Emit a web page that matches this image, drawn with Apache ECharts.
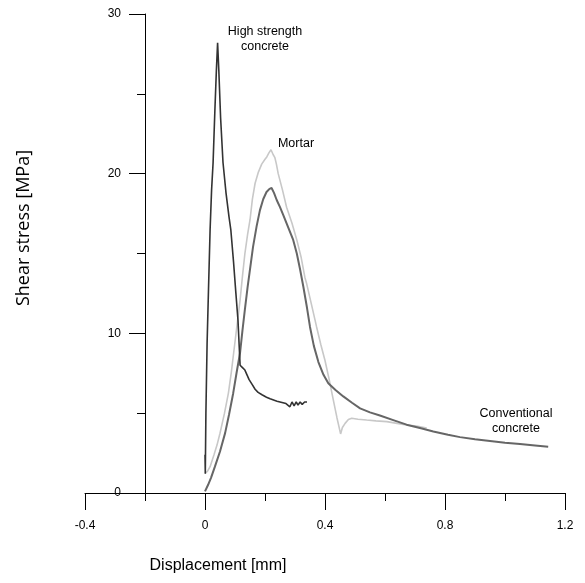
<!DOCTYPE html>
<html>
<head>
<meta charset="utf-8">
<script src="https://cdn.jsdelivr.net/npm/echarts@6/dist/echarts.min.js"></script>
<style>html,body{margin:0;padding:0;background:#fff;}#c{width:585px;height:583px;}</style>
</head>
<body>
<div id="c"></div>
<script>
// Data: [displacement mm, shear stress MPa]
var highStrength = [
  [0,2.4],[0.001,1.2],[0.003,5.0],[0.007,9.4],[0.012,13.0],[0.017,16.5],[0.022,19.0],[0.027,20.7],
  [0.033,24.0],[0.038,26.5],[0.042,28.2],[0.046,26.5],[0.052,23.5],[0.06,20.7],[0.07,18.8],
  [0.08,17.3],[0.086,16.5],[0.095,14.5],[0.103,12.5],[0.11,10.8],[0.114,9.2],[0.117,8.0],
  [0.125,7.85],[0.133,7.7],[0.14,7.4],[0.147,7.1],[0.157,6.8],[0.167,6.5],[0.177,6.3],
  [0.19,6.15],[0.205,6.0],[0.217,5.9],[0.24,5.75],[0.26,5.65],[0.27,5.6],
  [0.276,5.7],[0.283,5.4],[0.29,5.7],[0.297,5.45],[0.304,5.7],[0.31,5.5],[0.317,5.7],[0.324,5.55],[0.332,5.7],[0.34,5.7]
];
var conventional = [
  [0,0.1],[0.01,0.5],[0.02,0.95],[0.033,1.65],[0.05,2.6],[0.067,3.75],[0.08,4.9],[0.094,6.25],
  [0.105,7.5],[0.117,8.8],[0.125,10.2],[0.133,11.5],[0.142,12.9],[0.15,14.0],[0.16,15.4],
  [0.172,16.7],[0.183,17.7],[0.194,18.4],[0.205,18.85],[0.215,19.05],[0.222,19.1],[0.23,18.8],
  [0.239,18.35],[0.25,17.9],[0.261,17.4],[0.278,16.6],[0.294,15.85],[0.306,15.0],[0.317,14.0],
  [0.328,12.9],[0.34,11.6],[0.35,10.4],[0.363,9.2],[0.378,8.2],[0.395,7.4],[0.411,6.87],
  [0.435,6.45],[0.461,6.05],[0.49,5.65],[0.517,5.3],[0.55,5.05],[0.583,4.85],[0.63,4.55],
  [0.672,4.28],[0.72,4.05],[0.761,3.85],[0.81,3.65],[0.85,3.5],[0.9,3.37],[0.95,3.26],
  [1.0,3.15],[1.05,3.07],[1.1,2.98],[1.144,2.9]
];
var mortar = [
  [0,1.23],[0.008,1.35],[0.017,1.65],[0.03,2.4],[0.04,3.0],[0.05,3.74],[0.065,5.0],[0.078,6.26],
  [0.088,7.6],[0.098,9.16],[0.108,10.7],[0.117,12.1],[0.125,13.6],[0.133,15.0],[0.142,16.2],
  [0.15,17.1],[0.158,18.4],[0.167,19.4],[0.178,20.1],[0.189,20.6],[0.2,20.9],[0.206,21.05],
  [0.213,21.3],[0.22,21.5],[0.227,21.2],[0.233,21.0],[0.238,20.6],[0.244,20.0],[0.258,19.0],
  [0.272,17.9],[0.29,16.9],[0.306,15.85],[0.32,14.8],[0.333,13.5],[0.339,13.1],[0.355,11.8],
  [0.372,10.4],[0.386,9.3],[0.4,8.3],[0.414,7.1],[0.428,5.8],[0.44,4.7],[0.452,3.7],[0.458,4.1],
  [0.467,4.36],[0.478,4.6],[0.489,4.68],[0.51,4.62],[0.539,4.57],[0.57,4.52],[0.606,4.47],
  [0.64,4.36],[0.672,4.26],[0.705,4.2],[0.739,4.07]
];
var seriesNames = ['High strength concrete','Conventional concrete','Mortar'];
var xTitle = 'Displacement [mm]';
var yTitle = 'Shear stress [MPa]';

var chart = echarts.init(document.getElementById('c'), null, {renderer:'canvas'});
var lblFont = 'Liberation Sans, Arial, sans-serif';
var gridBox = {left:85,right:20,top:14,bottom:90};
chart.setOption({
  animation:false,
  backgroundColor:'#fff',
  grid:[gridBox, Object.assign({}, gridBox)],
  xAxis:[{
    type:'value',min:-0.4,max:1.2,interval:0.4,gridIndex:0,
    axisLine:{show:true,onZero:false,lineStyle:{color:'#000',width:1}},
    axisTick:{show:true,length:17,lineStyle:{color:'#000'}},
    splitLine:{show:false},
    axisLabel:{margin:27,fontSize:12,color:'#000',fontFamily:lblFont}
  },{
    type:'value',min:-0.4,max:1.2,interval:0.2,gridIndex:1,
    axisLine:{show:false,onZero:false},
    axisTick:{show:true,length:8,lineStyle:{color:'#000'}},
    splitLine:{show:false},axisLabel:{show:false}
  }],
  yAxis:[{
    type:'value',min:0,max:30,interval:10,offset:-60,gridIndex:0,
    axisLine:{show:true,onZero:false,lineStyle:{color:'#000',width:1}},
    axisTick:{show:true,length:16,lineStyle:{color:'#000'}},
    splitLine:{show:false},
    axisLabel:{margin:24,fontSize:12,color:'#000',fontFamily:lblFont}
  },{
    type:'value',min:0,max:30,interval:5,offset:-60,gridIndex:1,
    axisLine:{show:false,onZero:false},
    axisTick:{show:true,length:8,lineStyle:{color:'#000'}},
    splitLine:{show:false},axisLabel:{show:false}
  }],
  graphic:[
    {type:'text',style:{text:xTitle,x:218,y:566,align:'center',verticalAlign:'middle',font:'16px '+lblFont,fill:'#000'}},
    {type:'text',x:24,y:228,rotation:Math.PI/2,style:{text:yTitle,x:0,y:0,align:'center',verticalAlign:'middle',font:'18px "Open Sans", sans-serif',fill:'#000'}},
    {type:'text',style:{text:'High strength\nconcrete',x:265,y:39,align:'center',verticalAlign:'middle',font:'12.5px '+lblFont,fill:'#000',lineHeight:15}},
    {type:'text',style:{text:'Mortar',x:296,y:144,align:'center',verticalAlign:'middle',font:'12.5px '+lblFont,fill:'#000'}},
    {type:'text',style:{text:'Conventional\nconcrete',x:516,y:421,align:'center',verticalAlign:'middle',font:'12.5px '+lblFont,fill:'#000',lineHeight:15}}
  ],
  series:[
    {name:seriesNames[2],type:'line',xAxisIndex:0,yAxisIndex:0,data:mortar,showSymbol:false,lineStyle:{color:'#c8c8c8',width:1.6},z:2},
    {name:seriesNames[1],type:'line',xAxisIndex:0,yAxisIndex:0,data:conventional,showSymbol:false,lineStyle:{color:'#666',width:2},z:3},
    {name:seriesNames[0],type:'line',xAxisIndex:0,yAxisIndex:0,data:highStrength,showSymbol:false,lineStyle:{color:'#333',width:1.6},z:4}
  ]
});
</script>
</body>
</html>
